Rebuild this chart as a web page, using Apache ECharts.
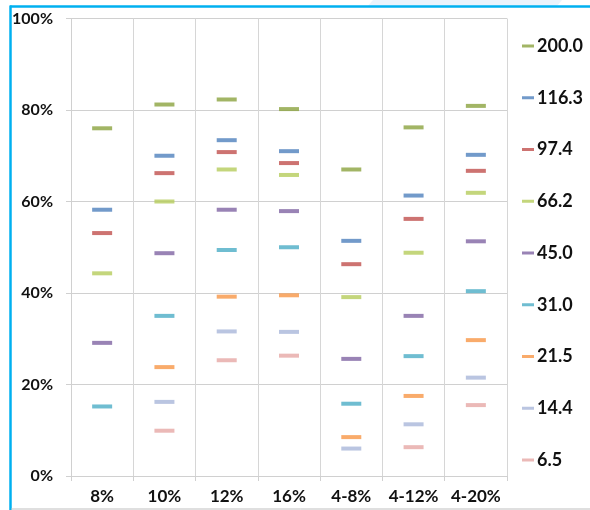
<!DOCTYPE html>
<html>
<head>
<meta charset="utf-8">
<style>
  html, body { margin: 0; padding: 0; background: #fff; }
  #chart { width: 590px; height: 510px; }
</style>
<script src="https://cdn.jsdelivr.net/npm/echarts@6/dist/echarts.min.js"></script>
</head>
<body>
<div id="chart"></div>
<script>
// Category labels along the x axis
const categories = ['8%', '10%', '12%', '16%', '4-8%', '4-12%', '4-20%'];

// Series names (legend labels)
const seriesNames = ['200.0', '116.3', '97.4', '66.2', '45.0', '31.0', '21.5', '14.4', '6.5'];

// Values in percent per category; null where no mark is drawn
const s200 = [76.0, 81.2, 82.3, 80.2, 67.0, 76.2, 80.9];
const s116 = [58.2, 70.0, 73.4, 71.0, 51.4, 61.3, 70.2];
const s97  = [53.1, 66.2, 70.8, 68.4, 46.3, 56.2, 66.7];
const s66  = [44.3, 60.0, 67.0, 65.8, 39.1, 48.8, 61.9];
const s45  = [29.1, 48.7, 58.2, 57.9, 25.6, 35.0, 51.3];
const s31  = [15.2, 35.0, 49.4, 50.0, 15.8, 26.2, 40.4];
const s21  = [null, 23.8, 39.2, 39.5,  8.5, 17.5, 29.7];
const s14  = [null, 16.2, 31.6, 31.5,  6.0, 11.3, 21.5];
const s6   = [null,  9.9, 25.3, 26.3, null,  6.3, 15.5];

// Y axis tick values
const yTicks = [0, 20, 40, 60, 80, 100];

const seriesValues = [s200, s116, s97, s66, s45, s31, s21, s14, s6];
const colors = ['#8BA23F', '#4F81BD', '#C0504D', '#B5CC5B', '#8064A2',
                '#4BACC6', '#F79646', '#A9B6D9', '#E6A7A5'];

const FONT = 'Lato, "Open Sans", sans-serif';

const chart = echarts.init(document.getElementById('chart'), null, { renderer: 'canvas' });

chart.setOption({
  backgroundColor: '#ffffff',
  animation: false,
  color: colors,
  grid: { left: 71, right: 83, top: 18.5, bottom: 34, containLabel: false },
  legend: {
    orient: 'vertical',
    left: 517,
    top: 31,
    icon: 'rect',
    itemWidth: 12,
    itemHeight: 3,
    itemGap: 31.75,
    data: seriesNames,
    textStyle: {
      fontFamily: FONT, fontWeight: 'bold', fontSize: 18, color: '#111',
      lineHeight: 20, padding: [0, 0, 0, -2]
    }
  },
  xAxis: {
    type: 'category',
    data: categories,
    boundaryGap: true,
    axisLine: { show: true, lineStyle: { color: '#D0D0D0', width: 1 } },
    axisTick: { show: true, interval: 0, length: 5, lineStyle: { color: '#D0D0D0' } },
    splitLine: { show: true, interval: 0, lineStyle: { color: '#D6D6D6', width: 1 } },
    axisLabel: {
      interval: 0, hideOverlap: false,
      margin: 12, fontFamily: FONT, fontWeight: 'bold', fontSize: 17, color: '#111'
    }
  },
  yAxis: {
    type: 'value',
    min: yTicks[0],
    max: yTicks[yTicks.length - 1],
    interval: 20,
    axisLine: { show: true, lineStyle: { color: '#D0D0D0', width: 1 } },
    axisTick: { show: true, length: 5, lineStyle: { color: '#D0D0D0' } },
    splitLine: { show: true, lineStyle: { color: '#D0D0D0', width: 1 } },
    axisLabel: {
      margin: 18, formatter: '{value}%',
      fontFamily: FONT, fontWeight: 'bold', fontSize: 16, color: '#111'
    }
  },
  series: seriesNames.map((name, i) => ({
    name: name,
    type: 'scatter',
    symbol: 'rect',
    symbolSize: [20, 4],
    data: seriesValues[i].map(v => (v === null ? '-' : v)),
    itemStyle: { color: colors[i] },
    emphasis: { disabled: true }
  })),
  graphic: [
    // pale tab shape along the top edge
    {
      type: 'polygon', silent: true, z: 0,
      shape: { points: [[373, 0], [562, 0], [557, 6], [368, 6]] },
      style: { fill: '#EAF3FC' }
    },
    // outer frame: blue top and left rules, grey bottom rule
    {
      type: 'line', silent: true,
      shape: { x1: 10, y1: 6.5, x2: 590, y2: 6.5 },
      style: { stroke: '#00B0F0', lineWidth: 2.5 }
    },
    {
      type: 'line', silent: true,
      shape: { x1: 10.5, y1: 5.5, x2: 10.5, y2: 510 },
      style: { stroke: '#00B0F0', lineWidth: 2.5 }
    },
    {
      type: 'line', silent: true,
      shape: { x1: 11, y1: 509, x2: 590, y2: 509 },
      style: { stroke: '#BFBFBF', lineWidth: 1 }
    }
  ]
});
</script>
</body>
</html>
